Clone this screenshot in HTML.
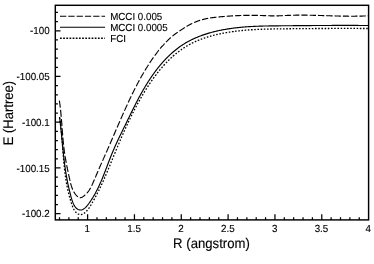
<!DOCTYPE html>
<html><head><meta charset="utf-8"><title>Chart</title>
<style>html,body{margin:0;padding:0;background:#fff;width:374px;height:264px;overflow:hidden;font-family:"Liberation Sans",sans-serif}</style>
</head><body>
<svg width="374" height="264" viewBox="0 0 374 264" style="position:absolute;left:0;top:0;will-change:transform">
<rect width="374" height="264" fill="#fff"/>
<g fill="none" stroke="#000">
<rect x="55.3" y="5.3" width="313.30" height="214.60" stroke-width="1.45"/>
<path d="M55.3,12.45h2.6 M55.3,21.60h2.6 M55.3,30.75h5.2 M55.3,39.90h2.6 M55.3,49.05h2.6 M55.3,58.19h2.6 M55.3,67.34h2.6 M55.3,76.49h5.2 M55.3,85.64h2.6 M55.3,94.79h2.6 M55.3,103.93h2.6 M55.3,113.08h2.6 M55.3,122.23h5.2 M55.3,131.38h2.6 M55.3,140.53h2.6 M55.3,149.67h2.6 M55.3,158.82h2.6 M55.3,167.97h5.2 M55.3,177.12h2.6 M55.3,186.27h2.6 M55.3,195.41h2.6 M55.3,204.56h2.6 M55.3,213.71h5.2 M59.50,219.9v-2.6 M68.87,219.9v-2.6 M78.23,219.9v-2.6 M87.60,219.9v-5.6 M96.97,219.9v-2.6 M106.33,219.9v-2.6 M115.70,219.9v-2.6 M125.07,219.9v-2.6 M134.44,219.9v-5.6 M143.80,219.9v-2.6 M153.17,219.9v-2.6 M162.54,219.9v-2.6 M171.90,219.9v-2.6 M181.27,219.9v-5.6 M190.64,219.9v-2.6 M200.00,219.9v-2.6 M209.37,219.9v-2.6 M218.74,219.9v-2.6 M228.10,219.9v-5.6 M237.47,219.9v-2.6 M246.84,219.9v-2.6 M256.21,219.9v-2.6 M265.57,219.9v-2.6 M274.94,219.9v-5.6 M284.31,219.9v-2.6 M293.67,219.9v-2.6 M303.04,219.9v-2.6 M312.41,219.9v-2.6 M321.77,219.9v-5.6 M331.14,219.9v-2.6 M340.51,219.9v-2.6 M349.88,219.9v-2.6 M359.24,219.9v-2.6" stroke-width="1.25"/>
<path d="M59.40,100.69 L59.45,101.02 L59.50,101.35 L59.55,101.68 L59.59,102.02 L59.64,102.35 L59.68,102.68 L59.73,103.01 L59.77,103.34 L59.81,103.67 L59.86,103.99 L59.90,104.32 L59.94,104.65 L59.98,104.98 L60.02,105.31 L60.06,105.64 L60.10,105.97 L60.14,106.30 L60.18,106.63 L60.22,106.96 L60.26,107.29 L60.29,107.62 L60.30,107.66 M60.54,109.88 L60.55,109.92 L60.58,110.25 L60.61,110.57 L60.65,110.90 L60.68,111.23 L60.71,111.56 L60.75,111.89 L60.78,112.22 L60.81,112.54 L60.84,112.87 L60.87,113.20 L60.91,113.53 L60.94,113.85 L60.97,114.18 L61.00,114.51 L61.03,114.84 L61.06,115.16 L61.09,115.49 L61.11,115.82 L61.14,116.15 L61.17,116.47 L61.20,116.80 L61.21,116.88 M61.39,119.10 L61.42,119.42 L61.45,119.74 L61.47,120.07 L61.50,120.40 L61.52,120.72 L61.55,121.05 L61.58,121.38 L61.60,121.70 L61.63,122.03 L61.65,122.35 L61.68,122.68 L61.70,123.01 L61.73,123.33 L61.75,123.66 L61.78,123.98 L61.80,124.31 L61.83,124.64 L61.85,124.96 L61.88,125.29 L61.90,125.61 L61.93,125.94 L61.94,126.12 M62.11,128.34 L62.12,128.54 L62.15,128.87 L62.17,129.19 L62.20,129.52 L62.22,129.84 L62.25,130.17 L62.27,130.49 L62.30,130.82 L62.32,131.14 L62.35,131.47 L62.37,131.79 L62.40,132.12 L62.43,132.44 L62.45,132.77 L62.48,133.09 L62.50,133.42 L62.53,133.74 L62.55,134.07 L62.58,134.39 L62.61,134.72 L62.63,135.04 L62.66,135.35 M62.85,137.58 L62.85,137.64 L62.88,137.96 L62.91,138.29 L62.94,138.61 L62.97,138.93 L63.00,139.26 L63.03,139.58 L63.06,139.91 L63.09,140.23 L63.12,140.56 L63.15,140.88 L63.18,141.20 L63.21,141.53 L63.25,141.85 L63.28,142.18 L63.31,142.50 L63.34,142.82 L63.38,143.15 L63.41,143.47 L63.45,143.80 L63.48,144.12 L63.51,144.44 L63.53,144.58 M63.78,146.79 L63.81,147.03 L63.84,147.36 L63.88,147.68 L63.92,148.00 L63.96,148.33 L64.00,148.65 L64.04,148.97 L64.09,149.30 L64.13,149.62 L64.17,149.95 L64.21,150.27 L64.26,150.59 L64.30,150.92 L64.34,151.24 L64.39,151.56 L64.43,151.89 L64.48,152.21 L64.53,152.53 L64.57,152.86 L64.62,153.18 L64.67,153.50 L64.71,153.76 M65.05,155.96 L65.07,156.09 L65.12,156.41 L65.18,156.74 L65.23,157.06 L65.28,157.38 L65.34,157.71 L65.39,158.03 L65.45,158.36 L65.50,158.68 L65.56,159.00 L65.62,159.33 L65.67,159.65 L65.73,159.97 L65.79,160.30 L65.84,160.62 L65.90,160.94 L65.96,161.27 L66.02,161.59 L66.08,161.91 L66.14,162.24 L66.20,162.56 L66.26,162.87 M66.68,165.05 L66.70,165.15 L66.76,165.47 L66.82,165.79 L66.89,166.12 L66.95,166.44 L67.02,166.76 L67.08,167.09 L67.15,167.41 L67.21,167.74 L67.28,168.06 L67.35,168.38 L67.41,168.71 L67.48,169.03 L67.55,169.35 L67.61,169.68 L67.68,170.00 L67.75,170.32 L67.82,170.65 L67.89,170.97 L67.95,171.30 L68.02,171.62 L68.09,171.91 M68.55,174.08 L68.58,174.21 L68.65,174.53 L68.72,174.86 L68.79,175.18 L68.87,175.51 L68.94,175.83 L69.01,176.15 L69.08,176.48 L69.15,176.80 L69.22,177.13 L69.30,177.45 L69.37,177.78 L69.44,178.10 L69.51,178.42 L69.59,178.75 L69.66,179.07 L69.73,179.40 L69.81,179.72 L69.88,180.05 L69.95,180.37 L70.03,180.69 L70.08,180.91 M70.59,183.08 L70.64,183.28 L70.72,183.60 L70.80,183.92 L70.89,184.24 L70.97,184.56 L71.06,184.88 L71.15,185.20 L71.24,185.52 L71.34,185.83 L71.43,186.15 L71.53,186.46 L71.63,186.77 L71.73,187.09 L71.84,187.40 L71.95,187.71 L72.06,188.01 L72.18,188.32 L72.29,188.62 L72.42,188.93 L72.54,189.23 L72.67,189.53 L72.74,189.68 M73.70,191.64 L73.84,191.87 L74.00,192.15 L74.17,192.43 L74.35,192.71 L74.53,192.99 L74.71,193.26 L74.90,193.54 L75.09,193.81 L75.30,194.07 L75.50,194.34 L75.71,194.60 L75.93,194.86 L76.15,195.12 L76.38,195.37 L76.62,195.62 L76.86,195.87 L77.11,196.11 L77.36,196.34 L77.62,196.57 L77.88,196.78 L77.92,196.81 M79.74,197.68 L79.81,197.70 L80.10,197.72 L80.38,197.72 L80.67,197.68 L80.96,197.62 L81.25,197.54 L81.54,197.43 L81.83,197.30 L82.12,197.16 L82.41,197.00 L82.69,196.82 L82.97,196.63 L83.26,196.44 L83.54,196.24 L83.81,196.03 L84.08,195.82 L84.35,195.60 L84.62,195.37 L84.88,195.14 L85.14,194.91 L85.30,194.77 M86.78,193.27 L86.85,193.18 L87.08,192.93 L87.30,192.67 L87.51,192.41 L87.73,192.15 L87.93,191.89 L88.14,191.62 L88.33,191.36 L88.53,191.09 L88.72,190.83 L88.90,190.56 L89.09,190.29 L89.27,190.02 L89.44,189.75 L89.61,189.47 L89.78,189.20 L89.95,188.92 L90.11,188.65 L90.27,188.37 L90.43,188.09 L90.58,187.81 L90.63,187.72 M91.63,185.78 L91.74,185.54 L91.88,185.25 L92.02,184.96 L92.16,184.67 L92.29,184.38 L92.42,184.09 L92.56,183.80 L92.69,183.50 L92.82,183.21 L92.95,182.92 L93.09,182.62 L93.22,182.33 L93.35,182.03 L93.48,181.73 L93.61,181.44 L93.74,181.14 L93.87,180.84 L94.00,180.54 L94.13,180.24 L94.26,179.94 L94.39,179.64 L94.45,179.50 M95.32,177.48 L95.43,177.22 L95.56,176.91 L95.69,176.61 L95.82,176.31 L95.94,176.00 L96.07,175.70 L96.20,175.39 L96.33,175.08 L96.46,174.78 L96.59,174.47 L96.72,174.17 L96.85,173.86 L96.98,173.55 L97.10,173.25 L97.23,172.94 L97.36,172.63 L97.49,172.33 L97.62,172.02 L97.75,171.72 L97.88,171.41 L98.01,171.11 M98.86,169.09 L98.92,168.96 L99.05,168.66 L99.18,168.35 L99.31,168.05 L99.44,167.74 L99.58,167.44 L99.71,167.14 L99.84,166.83 L99.97,166.53 L100.10,166.22 L100.23,165.92 L100.37,165.62 L100.50,165.32 L100.63,165.01 L100.76,164.71 L100.90,164.41 L101.03,164.11 L101.16,163.80 L101.30,163.50 L101.43,163.20 L101.56,162.90 L101.62,162.77 M102.51,160.76 L102.63,160.49 L102.76,160.19 L102.90,159.89 L103.03,159.59 L103.17,159.29 L103.30,158.99 L103.43,158.69 L103.57,158.39 L103.70,158.09 L103.84,157.79 L103.97,157.49 L104.11,157.20 L104.24,156.90 L104.37,156.60 L104.51,156.30 L104.64,156.00 L104.78,155.70 L104.91,155.40 L105.04,155.10 L105.18,154.80 L105.31,154.50 L105.33,154.47 M106.22,152.47 L106.25,152.41 L106.38,152.11 L106.52,151.81 L106.65,151.51 L106.78,151.21 L106.92,150.91 L107.05,150.61 L107.18,150.32 L107.32,150.02 L107.45,149.72 L107.58,149.42 L107.71,149.12 L107.85,148.82 L107.98,148.52 L108.11,148.22 L108.24,147.92 L108.38,147.62 L108.51,147.32 L108.64,147.02 L108.77,146.72 L108.90,146.42 L109.02,146.16 M109.90,144.15 L109.95,144.02 L110.09,143.72 L110.22,143.42 L110.35,143.12 L110.48,142.82 L110.61,142.52 L110.74,142.22 L110.87,141.92 L111.00,141.62 L111.13,141.32 L111.26,141.02 L111.39,140.72 L111.52,140.42 L111.65,140.12 L111.78,139.82 L111.91,139.52 L112.04,139.22 L112.17,138.91 L112.30,138.61 L112.43,138.31 L112.56,138.01 L112.65,137.82 M113.52,135.81 L113.60,135.61 L113.73,135.31 L113.86,135.00 L113.99,134.70 L114.12,134.40 L114.25,134.10 L114.38,133.80 L114.51,133.50 L114.64,133.20 L114.77,132.90 L114.90,132.60 L115.03,132.30 L115.16,132.00 L115.29,131.69 L115.42,131.39 L115.55,131.09 L115.68,130.79 L115.81,130.49 L115.94,130.19 L116.07,129.89 L116.20,129.59 L116.25,129.47 M117.12,127.45 L117.24,127.18 L117.37,126.88 L117.50,126.58 L117.63,126.28 L117.76,125.98 L117.89,125.68 L118.02,125.38 L118.15,125.07 L118.28,124.77 L118.41,124.47 L118.54,124.17 L118.67,123.87 L118.80,123.57 L118.93,123.27 L119.06,122.97 L119.19,122.67 L119.32,122.37 L119.45,122.07 L119.58,121.77 L119.71,121.47 L119.84,121.17 L119.86,121.12 M120.74,119.11 L120.76,119.06 L120.89,118.76 L121.02,118.46 L121.16,118.16 L121.29,117.86 L121.42,117.56 L121.55,117.26 L121.68,116.96 L121.82,116.66 L121.95,116.36 L122.08,116.06 L122.21,115.76 L122.34,115.46 L122.48,115.16 L122.61,114.86 L122.74,114.56 L122.88,114.26 L123.01,113.96 L123.14,113.66 L123.27,113.36 L123.41,113.06 L123.53,112.80 M124.42,110.80 L124.48,110.67 L124.61,110.37 L124.75,110.07 L124.88,109.77 L125.02,109.47 L125.15,109.17 L125.29,108.87 L125.42,108.57 L125.56,108.27 L125.69,107.98 L125.83,107.68 L125.96,107.38 L126.10,107.08 L126.24,106.78 L126.37,106.48 L126.51,106.18 L126.65,105.89 L126.78,105.59 L126.92,105.29 L127.06,104.99 L127.19,104.69 L127.27,104.52 M128.19,102.54 L128.30,102.31 L128.44,102.01 L128.58,101.72 L128.72,101.42 L128.86,101.12 L128.99,100.83 L129.13,100.53 L129.27,100.23 L129.41,99.93 L129.55,99.64 L129.70,99.34 L129.84,99.04 L129.98,98.75 L130.12,98.45 L130.26,98.16 L130.40,97.86 L130.54,97.56 L130.69,97.27 L130.83,96.97 L130.97,96.67 L131.11,96.38 L131.14,96.32 M132.10,94.35 L132.12,94.31 L132.26,94.02 L132.41,93.72 L132.55,93.43 L132.70,93.13 L132.84,92.84 L132.99,92.54 L133.13,92.25 L133.28,91.95 L133.43,91.66 L133.57,91.36 L133.72,91.07 L133.87,90.78 L134.01,90.48 L134.16,90.19 L134.31,89.89 L134.46,89.60 L134.61,89.31 L134.76,89.01 L134.90,88.72 L135.05,88.43 L135.17,88.21 M136.16,86.27 L136.26,86.09 L136.41,85.79 L136.56,85.50 L136.71,85.21 L136.87,84.92 L137.02,84.63 L137.17,84.34 L137.33,84.04 L137.48,83.75 L137.63,83.46 L137.79,83.17 L137.94,82.88 L138.10,82.59 L138.25,82.30 L138.41,82.01 L138.56,81.72 L138.72,81.43 L138.88,81.14 L139.03,80.85 L139.19,80.56 L139.35,80.27 L139.38,80.22 M140.42,78.31 L140.46,78.24 L140.62,77.96 L140.78,77.67 L140.94,77.38 L141.10,77.09 L141.26,76.80 L141.42,76.51 L141.59,76.23 L141.75,75.94 L141.91,75.65 L142.08,75.36 L142.24,75.08 L142.40,74.79 L142.57,74.50 L142.73,74.22 L142.90,73.93 L143.06,73.64 L143.23,73.36 L143.39,73.07 L143.56,72.79 L143.73,72.50 L143.80,72.37 M144.91,70.51 L145.07,70.23 L145.24,69.94 L145.42,69.66 L145.59,69.38 L145.76,69.09 L145.93,68.81 L146.10,68.53 L146.27,68.25 L146.45,67.97 L146.62,67.68 L146.79,67.40 L146.97,67.12 L147.14,66.84 L147.32,66.56 L147.49,66.28 L147.67,66.00 L147.85,65.72 L148.02,65.44 L148.20,65.17 L148.38,64.89 L148.49,64.72 M149.66,62.91 L149.81,62.67 L149.99,62.40 L150.18,62.12 L150.36,61.85 L150.54,61.58 L150.72,61.30 L150.91,61.03 L151.09,60.76 L151.28,60.48 L151.46,60.21 L151.65,59.94 L151.83,59.67 L152.02,59.40 L152.21,59.13 L152.39,58.86 L152.58,58.59 L152.77,58.32 L152.96,58.05 L153.15,57.78 L153.34,57.51 L153.48,57.31 M154.74,55.57 L154.87,55.39 L155.07,55.13 L155.26,54.86 L155.46,54.60 L155.65,54.34 L155.85,54.08 L156.04,53.82 L156.24,53.56 L156.44,53.30 L156.64,53.04 L156.83,52.78 L157.03,52.52 L157.23,52.26 L157.43,52.00 L157.63,51.75 L157.84,51.49 L158.04,51.24 L158.24,50.98 L158.44,50.73 L158.65,50.47 L158.84,50.23 M160.19,48.58 L160.29,48.46 L160.50,48.21 L160.71,47.97 L160.92,47.72 L161.13,47.47 L161.34,47.23 L161.55,46.98 L161.76,46.74 L161.97,46.49 L162.18,46.25 L162.40,46.01 L162.61,45.76 L162.83,45.52 L163.04,45.28 L163.26,45.04 L163.47,44.80 L163.69,44.56 L163.91,44.33 L164.12,44.09 L164.34,43.85 L164.56,43.62 L164.61,43.57 M166.07,42.04 L166.11,42.00 L166.33,41.77 L166.56,41.54 L166.78,41.31 L167.01,41.09 L167.23,40.86 L167.46,40.64 L167.69,40.42 L167.92,40.20 L168.14,39.98 L168.37,39.76 L168.60,39.54 L168.83,39.32 L169.06,39.11 L169.30,38.89 L169.53,38.68 L169.76,38.46 L169.99,38.25 L170.23,38.04 L170.46,37.83 L170.70,37.63 L170.87,37.48 M172.46,36.13 L172.61,36.00 L172.85,35.81 L173.09,35.61 L173.33,35.42 L173.57,35.22 L173.82,35.03 L174.06,34.84 L174.31,34.65 L174.55,34.47 L174.80,34.28 L175.05,34.10 L175.30,33.91 L175.55,33.73 L175.79,33.55 L176.04,33.37 L176.29,33.19 L176.55,33.02 L176.80,32.84 L177.05,32.67 L177.30,32.50 L177.56,32.33 L177.70,32.23 M179.42,31.08 L179.62,30.94 L179.88,30.77 L180.14,30.59 L180.40,30.41 L180.66,30.24 L180.92,30.06 L181.19,29.88 L181.45,29.70 L181.72,29.53 L181.98,29.35 L182.25,29.17 L182.52,29.00 L182.78,28.82 L183.05,28.64 L183.32,28.47 L183.59,28.29 L183.86,28.12 L184.13,27.94 L184.41,27.77 L184.68,27.60 L184.84,27.49 M186.59,26.42 L186.60,26.41 L186.88,26.25 L187.16,26.09 L187.44,25.92 L187.72,25.76 L188.00,25.61 L188.28,25.45 L188.56,25.29 L188.85,25.14 L189.13,24.98 L189.41,24.83 L189.70,24.68 L189.98,24.53 L190.27,24.38 L190.55,24.24 L190.84,24.09 L191.13,23.95 L191.42,23.81 L191.71,23.67 L192.00,23.53 L192.28,23.39 M194.13,22.55 L194.34,22.46 L194.63,22.34 L194.93,22.21 L195.23,22.09 L195.52,21.97 L195.82,21.85 L196.12,21.73 L196.42,21.61 L196.72,21.49 L197.02,21.38 L197.32,21.27 L197.63,21.16 L197.93,21.05 L198.23,20.94 L198.54,20.83 L198.84,20.73 L199.14,20.62 L199.45,20.52 L199.76,20.42 L200.06,20.32 L200.10,20.31 M202.03,19.73 L202.23,19.68 L202.54,19.59 L202.86,19.51 L203.17,19.42 L203.49,19.34 L203.80,19.26 L204.12,19.18 L204.43,19.11 L204.75,19.03 L205.07,18.96 L205.38,18.89 L205.70,18.82 L206.02,18.75 L206.34,18.68 L206.66,18.62 L206.98,18.55 L207.30,18.49 L207.62,18.43 L207.94,18.37 L208.20,18.32 M210.18,17.99 L210.21,17.98 L210.53,17.93 L210.86,17.88 L211.19,17.83 L211.51,17.79 L211.84,17.74 L212.17,17.69 L212.49,17.65 L212.82,17.61 L213.15,17.56 L213.48,17.52 L213.80,17.48 L214.13,17.44 L214.46,17.40 L214.79,17.36 L215.12,17.32 L215.45,17.29 L215.78,17.25 L216.11,17.21 L216.44,17.18 L216.44,17.18 M218.43,16.98 L218.74,16.95 L219.07,16.92 L219.40,16.88 L219.73,16.85 L220.06,16.82 L220.39,16.79 L220.72,16.76 L221.05,16.73 L221.38,16.70 L221.71,16.67 L222.04,16.65 L222.37,16.62 L222.70,16.59 L223.03,16.56 L223.36,16.53 L223.69,16.51 L224.02,16.48 L224.35,16.45 L224.68,16.43 L224.71,16.42 M226.71,16.27 L226.99,16.25 L227.31,16.23 L227.64,16.20 L227.97,16.18 L228.30,16.16 L228.63,16.13 L228.96,16.11 L229.29,16.09 L229.62,16.07 L229.95,16.05 L230.28,16.02 L230.61,16.00 L230.94,15.98 L231.26,15.96 L231.59,15.94 L231.92,15.92 L232.25,15.90 L232.58,15.88 L232.91,15.87 L232.99,15.86 M234.99,15.75 L235.21,15.74 L235.54,15.73 L235.87,15.71 L236.20,15.70 L236.53,15.68 L236.85,15.67 L237.18,15.65 L237.51,15.64 L237.84,15.62 L238.17,15.61 L238.50,15.60 L238.83,15.58 L239.15,15.57 L239.48,15.56 L239.81,15.55 L240.14,15.53 L240.47,15.52 L240.80,15.51 L241.12,15.50 L241.29,15.50 M243.29,15.44 L243.42,15.44 L243.75,15.43 L244.08,15.42 L244.41,15.41 L244.74,15.41 L245.06,15.40 L245.39,15.39 L245.72,15.39 L246.05,15.38 L246.38,15.38 L246.70,15.37 L247.03,15.37 L247.36,15.36 L247.69,15.36 L248.02,15.36 L248.34,15.35 L248.67,15.35 L249.00,15.35 L249.33,15.34 L249.59,15.34 M251.59,15.34 L251.62,15.34 L251.95,15.34 L252.28,15.34 L252.61,15.34 L252.94,15.34 L253.26,15.35 L253.59,15.35 L253.92,15.35 L254.25,15.35 L254.58,15.36 L254.90,15.36 L255.23,15.37 L255.56,15.37 L255.89,15.38 L256.21,15.38 L256.54,15.39 L256.87,15.39 L257.20,15.40 L257.53,15.40 L257.85,15.41 L257.89,15.41 M259.89,15.46 L260.15,15.47 L260.48,15.48 L260.80,15.49 L261.13,15.50 L261.46,15.51 L261.79,15.52 L262.11,15.54 L262.44,15.55 L262.77,15.56 L263.10,15.57 L263.42,15.58 L263.75,15.59 L264.08,15.61 L264.41,15.62 L264.74,15.63 L265.06,15.64 L265.39,15.65 L265.72,15.67 L266.05,15.68 L266.18,15.68 M268.18,15.75 L268.34,15.76 L268.67,15.77 L269.00,15.78 L269.32,15.78 L269.65,15.79 L269.98,15.80 L270.31,15.81 L270.63,15.82 L270.96,15.83 L271.29,15.83 L271.62,15.84 L271.94,15.85 L272.27,15.85 L272.60,15.86 L272.93,15.86 L273.26,15.86 L273.58,15.87 L273.91,15.87 L274.24,15.87 L274.48,15.87 M276.48,15.86 L276.53,15.86 L276.86,15.86 L277.19,15.85 L277.52,15.84 L277.84,15.84 L278.17,15.83 L278.50,15.82 L278.83,15.81 L279.16,15.80 L279.48,15.79 L279.81,15.77 L280.14,15.76 L280.47,15.75 L280.79,15.73 L281.12,15.72 L281.45,15.70 L281.78,15.69 L282.11,15.67 L282.43,15.66 L282.76,15.64 L282.78,15.64 M284.78,15.54 L285.06,15.53 L285.39,15.51 L285.71,15.50 L286.04,15.48 L286.37,15.47 L286.70,15.45 L287.03,15.44 L287.35,15.42 L287.68,15.41 L288.01,15.39 L288.34,15.38 L288.67,15.37 L288.99,15.36 L289.32,15.35 L289.65,15.33 L289.98,15.32 L290.31,15.31 L290.64,15.30 L290.96,15.29 L291.07,15.29 M293.07,15.24 L293.26,15.23 L293.59,15.23 L293.92,15.22 L294.25,15.21 L294.57,15.21 L294.90,15.20 L295.23,15.20 L295.56,15.19 L295.89,15.19 L296.22,15.18 L296.54,15.18 L296.87,15.17 L297.20,15.17 L297.53,15.17 L297.86,15.17 L298.19,15.16 L298.52,15.16 L298.84,15.16 L299.17,15.16 L299.37,15.16 M301.37,15.15 L301.47,15.15 L301.80,15.15 L302.13,15.15 L302.46,15.16 L302.79,15.16 L303.11,15.16 L303.44,15.16 L303.77,15.16 L304.10,15.16 L304.43,15.17 L304.76,15.17 L305.09,15.17 L305.41,15.18 L305.74,15.18 L306.07,15.18 L306.40,15.19 L306.73,15.19 L307.06,15.19 L307.39,15.20 L307.67,15.20 M309.67,15.23 L309.69,15.23 L310.02,15.24 L310.34,15.25 L310.67,15.25 L311.00,15.26 L311.33,15.27 L311.66,15.27 L311.99,15.28 L312.32,15.29 L312.65,15.29 L312.97,15.30 L313.30,15.31 L313.63,15.32 L313.96,15.32 L314.29,15.33 L314.62,15.34 L314.95,15.35 L315.28,15.36 L315.60,15.36 L315.93,15.37 L315.97,15.37 M317.97,15.43 L318.23,15.43 L318.56,15.44 L318.89,15.45 L319.22,15.46 L319.55,15.47 L319.88,15.48 L320.21,15.49 L320.54,15.50 L320.87,15.51 L321.19,15.52 L321.52,15.53 L321.85,15.54 L322.18,15.55 L322.51,15.56 L322.84,15.57 L323.17,15.58 L323.50,15.59 L323.82,15.60 L324.15,15.61 L324.27,15.61 M326.26,15.68 L326.46,15.68 L326.78,15.69 L327.11,15.70 L327.44,15.71 L327.77,15.72 L328.10,15.73 L328.43,15.74 L328.76,15.75 L329.09,15.76 L329.41,15.77 L329.74,15.78 L330.07,15.79 L330.40,15.80 L330.73,15.81 L331.06,15.82 L331.39,15.83 L331.72,15.84 L332.05,15.85 L332.37,15.86 L332.56,15.87 M334.56,15.93 L334.68,15.93 L335.00,15.94 L335.33,15.95 L335.66,15.96 L335.99,15.96 L336.32,15.97 L336.65,15.98 L336.98,15.99 L337.31,16.00 L337.63,16.01 L337.96,16.02 L338.29,16.02 L338.62,16.03 L338.95,16.04 L339.28,16.05 L339.61,16.05 L339.94,16.06 L340.26,16.07 L340.59,16.08 L340.86,16.08 M342.86,16.12 L342.89,16.12 L343.22,16.13 L343.55,16.13 L343.88,16.14 L344.21,16.14 L344.54,16.15 L344.86,16.15 L345.19,16.16 L345.52,16.16 L345.85,16.17 L346.18,16.17 L346.51,16.18 L346.84,16.18 L347.16,16.18 L347.49,16.19 L347.82,16.19 L348.15,16.19 L348.48,16.20 L348.81,16.20 L349.14,16.20 L349.16,16.20 M351.16,16.21 L351.44,16.21 L351.76,16.21 L352.09,16.21 L352.42,16.21 L352.75,16.21 L353.08,16.21 L353.41,16.21 L353.73,16.21 L354.06,16.20 L354.39,16.20 L354.72,16.20 L355.05,16.20 L355.38,16.19 L355.70,16.19 L356.03,16.19 L356.36,16.18 L356.69,16.18 L357.02,16.18 L357.35,16.17 L357.46,16.17 M359.46,16.13 L359.64,16.13 L359.97,16.12 L360.30,16.11 L360.63,16.11 L360.96,16.10 L361.28,16.09 L361.61,16.08 L361.94,16.07 L362.27,16.06 L362.60,16.05 L362.92,16.04 L363.25,16.03 L363.58,16.02 L363.91,16.01 L364.24,15.99 L364.56,15.98 L364.89,15.97 L365.22,15.95 L365.55,15.94 L365.76,15.93 M367.75,15.84 L367.84,15.83 L368.17,15.82 L368.50,15.80" stroke-width="1.15"/>
<path d="M59.61,117.00 L59.70,117.76 L59.79,118.52 L59.88,119.28 L59.97,120.05 L60.06,120.82 L60.15,121.59 L60.24,122.37 L60.32,123.15 L60.41,123.93 L60.49,124.71 L60.57,125.50 L60.66,126.29 L60.74,127.08 L60.82,127.87 L60.90,128.67 L60.98,129.47 L61.06,130.27 L61.14,131.07 L61.22,131.87 L61.30,132.68 L61.38,133.49 L61.46,134.30 L61.54,135.11 L61.62,135.92 L61.70,136.74 L61.78,137.55 L61.86,138.37 L61.93,139.19 L62.01,140.01 L62.09,140.83 L62.17,141.65 L62.25,142.47 L62.33,143.29 L62.41,144.12 L62.49,144.94 L62.58,145.77 L62.66,146.59 L62.74,147.42 L62.82,148.24 L62.91,149.07 L62.99,149.89 L63.08,150.72 L63.16,151.55 L63.25,152.37 L63.34,153.20 L63.43,154.02 L63.52,154.85 L63.61,155.67 L63.70,156.49 L63.80,157.32 L63.89,158.14 L63.99,158.96 L64.08,159.78 L64.18,160.60 L64.28,161.42 L64.38,162.23 L64.49,163.05 L64.59,163.86 L64.70,164.67 L64.81,165.48 L64.92,166.29 L65.03,167.10 L65.14,167.91 L65.26,168.71 L65.37,169.51 L65.49,170.31 L65.61,171.11 L65.73,171.91 L65.86,172.70 L65.99,173.49 L66.12,174.28 L66.25,175.06 L66.38,175.85 L66.52,176.63 L66.65,177.40 L66.79,178.18 L66.94,178.95 L67.08,179.72 L67.23,180.48 L67.38,181.25 L67.54,182.01 L67.69,182.77 L67.85,183.52 L68.01,184.28 L68.18,185.04 L68.34,185.79 L68.52,186.55 L68.69,187.31 L68.87,188.07 L69.04,188.84 L69.23,189.60 L69.41,190.37 L69.60,191.15 L69.79,191.93 L69.99,192.72 L70.19,193.51 L70.39,194.30 L70.60,195.11 L70.81,195.92 L71.02,196.74 L71.25,197.55 L71.48,198.37 L71.72,199.19 L71.98,200.00 L72.25,200.81 L72.53,201.61 L72.83,202.39 L73.16,203.17 L73.50,203.93 L73.86,204.68 L74.25,205.40 L74.66,206.11 L75.10,206.79 L75.58,207.44 L76.11,208.04 L76.71,208.58 L77.37,209.05 L78.10,209.44 L78.87,209.73 L79.65,209.92 L80.42,210.00 L81.17,209.96 L81.88,209.82 L82.57,209.58 L83.24,209.26 L83.88,208.86 L84.50,208.40 L85.10,207.88 L85.68,207.33 L86.25,206.74 L86.80,206.12 L87.33,205.48 L87.86,204.82 L88.37,204.15 L88.87,203.48 L89.36,202.79 L89.84,202.11 L90.32,201.42 L90.79,200.73 L91.25,200.04 L91.70,199.35 L92.14,198.65 L92.58,197.95 L93.01,197.25 L93.44,196.55 L93.85,195.84 L94.26,195.14 L94.67,194.43 L95.07,193.72 L95.46,193.00 L95.85,192.29 L96.23,191.57 L96.60,190.85 L96.97,190.13 L97.34,189.41 L97.70,188.69 L98.05,187.96 L98.40,187.24 L98.75,186.51 L99.09,185.78 L99.43,185.05 L99.76,184.32 L100.09,183.58 L100.42,182.85 L100.74,182.11 L101.06,181.38 L101.37,180.64 L101.68,179.90 L101.99,179.16 L102.30,178.42 L102.60,177.67 L102.90,176.93 L103.20,176.19 L103.50,175.44 L103.79,174.70 L104.09,173.95 L104.38,173.20 L104.67,172.45 L104.96,171.71 L105.25,170.96 L105.53,170.21 L105.82,169.46 L106.10,168.71 L106.39,167.96 L106.67,167.21 L106.96,166.46 L107.24,165.70 L107.53,164.95 L107.81,164.20 L108.10,163.45 L108.38,162.70 L108.67,161.94 L108.96,161.19 L109.25,160.44 L109.54,159.69 L109.83,158.94 L110.12,158.19 L110.42,157.43 L110.71,156.68 L111.01,155.93 L111.31,155.18 L111.62,154.43 L111.92,153.69 L112.23,152.94 L112.54,152.19 L112.86,151.44 L113.18,150.69 L113.50,149.95 L113.82,149.20 L114.14,148.46 L114.47,147.71 L114.80,146.97 L115.13,146.23 L115.47,145.48 L115.80,144.74 L116.14,144.00 L116.48,143.26 L116.82,142.52 L117.17,141.78 L117.51,141.04 L117.86,140.30 L118.20,139.56 L118.55,138.82 L118.90,138.08 L119.26,137.35 L119.61,136.61 L119.96,135.87 L120.31,135.14 L120.67,134.40 L121.02,133.67 L121.38,132.94 L121.74,132.20 L122.09,131.47 L122.45,130.74 L122.81,130.01 L123.17,129.28 L123.52,128.54 L123.88,127.81 L124.24,127.09 L124.60,126.36 L124.95,125.63 L125.31,124.90 L125.67,124.17 L126.02,123.45 L126.38,122.72 L126.73,121.99 L127.08,121.27 L127.44,120.54 L127.79,119.82 L128.14,119.09 L128.50,118.37 L128.85,117.65 L129.20,116.93 L129.55,116.20 L129.90,115.48 L130.25,114.76 L130.61,114.04 L130.96,113.32 L131.31,112.60 L131.67,111.88 L132.02,111.16 L132.37,110.45 L132.73,109.73 L133.09,109.01 L133.44,108.29 L133.80,107.58 L134.16,106.86 L134.52,106.15 L134.88,105.43 L135.24,104.72 L135.61,104.00 L135.97,103.29 L136.34,102.58 L136.71,101.87 L137.08,101.15 L137.45,100.44 L137.82,99.73 L138.20,99.02 L138.57,98.31 L138.95,97.60 L139.33,96.89 L139.72,96.18 L140.10,95.47 L140.49,94.77 L140.88,94.06 L141.27,93.35 L141.67,92.64 L142.07,91.94 L142.47,91.23 L142.87,90.53 L143.28,89.82 L143.69,89.12 L144.10,88.42 L144.51,87.72 L144.93,87.02 L145.35,86.32 L145.77,85.62 L146.20,84.92 L146.63,84.23 L147.06,83.53 L147.49,82.84 L147.93,82.15 L148.37,81.46 L148.81,80.77 L149.26,80.08 L149.71,79.40 L150.16,78.71 L150.62,78.03 L151.08,77.36 L151.54,76.68 L152.00,76.00 L152.47,75.33 L152.94,74.66 L153.42,74.00 L153.90,73.33 L154.38,72.67 L154.86,72.01 L155.35,71.35 L155.84,70.70 L156.33,70.05 L156.83,69.40 L157.33,68.76 L157.84,68.11 L158.34,67.48 L158.85,66.84 L159.37,66.21 L159.89,65.58 L160.41,64.96 L160.93,64.33 L161.46,63.72 L162.00,63.10 L162.53,62.49 L163.07,61.89 L163.61,61.28 L164.16,60.68 L164.71,60.09 L165.27,59.50 L165.82,58.91 L166.38,58.33 L166.95,57.76 L167.52,57.18 L168.09,56.61 L168.67,56.05 L169.25,55.49 L169.84,54.94 L170.42,54.39 L171.02,53.84 L171.61,53.31 L172.21,52.77 L172.82,52.24 L173.43,51.72 L174.04,51.20 L174.65,50.69 L175.28,50.18 L175.90,49.68 L176.53,49.18 L177.16,48.69 L177.80,48.20 L178.44,47.73 L179.09,47.25 L179.74,46.78 L180.39,46.32 L181.05,45.87 L181.71,45.42 L182.38,44.98 L183.05,44.54 L183.72,44.11 L184.40,43.69 L185.09,43.27 L185.78,42.86 L186.47,42.46 L187.17,42.06 L187.87,41.67 L188.57,41.28 L189.28,40.91 L190.00,40.54 L190.71,40.17 L191.44,39.81 L192.16,39.46 L192.89,39.11 L193.62,38.77 L194.35,38.44 L195.09,38.11 L195.83,37.79 L196.58,37.47 L197.32,37.16 L198.07,36.85 L198.83,36.55 L199.58,36.26 L200.34,35.97 L201.10,35.69 L201.86,35.41 L202.63,35.14 L203.40,34.87 L204.17,34.61 L204.94,34.35 L205.71,34.10 L206.49,33.85 L207.26,33.61 L208.04,33.38 L208.82,33.14 L209.60,32.92 L210.39,32.70 L211.17,32.48 L211.96,32.27 L212.74,32.06 L213.53,31.86 L214.32,31.66 L215.11,31.47 L215.90,31.28 L216.69,31.09 L217.48,30.91 L218.28,30.74 L219.07,30.56 L219.86,30.40 L220.65,30.23 L221.45,30.07 L222.24,29.92 L223.04,29.76 L223.83,29.62 L224.63,29.47 L225.43,29.33 L226.22,29.20 L227.02,29.06 L227.82,28.93 L228.62,28.81 L229.42,28.69 L230.22,28.57 L231.01,28.45 L231.81,28.34 L232.61,28.23 L233.42,28.13 L234.22,28.03 L235.02,27.93 L235.82,27.83 L236.62,27.74 L237.42,27.65 L238.23,27.56 L239.03,27.48 L239.83,27.40 L240.64,27.32 L241.44,27.25 L242.25,27.17 L243.05,27.10 L243.86,27.04 L244.66,26.97 L245.47,26.91 L246.27,26.85 L247.08,26.79 L247.89,26.74 L248.69,26.68 L249.50,26.63 L250.31,26.58 L251.11,26.54 L251.92,26.49 L252.73,26.45 L253.54,26.41 L254.35,26.37 L255.15,26.33 L255.96,26.30 L256.77,26.26 L257.58,26.23 L258.39,26.20 L259.20,26.17 L260.01,26.15 L260.82,26.12 L261.63,26.10 L262.44,26.07 L263.25,26.05 L264.06,26.03 L264.87,26.01 L265.68,25.99 L266.49,25.98 L267.30,25.96 L268.11,25.95 L268.92,25.93 L269.73,25.92 L270.54,25.90 L271.35,25.89 L272.16,25.88 L272.97,25.87 L273.78,25.86 L274.59,25.85 L275.40,25.84 L276.21,25.84 L277.02,25.83 L277.83,25.82 L278.65,25.81 L279.46,25.80 L280.27,25.80 L281.08,25.79 L281.89,25.78 L282.70,25.78 L283.51,25.77 L284.32,25.76 L285.13,25.76 L285.94,25.75 L286.75,25.74 L287.56,25.74 L288.37,25.73 L289.18,25.72 L289.99,25.72 L290.80,25.71 L291.61,25.70 L292.42,25.70 L293.23,25.69 L294.04,25.68 L294.85,25.67 L295.66,25.67 L296.47,25.66 L297.28,25.66 L298.09,25.65 L298.90,25.64 L299.70,25.64 L300.51,25.63 L301.32,25.62 L302.13,25.62 L302.94,25.61 L303.75,25.60 L304.56,25.60 L305.37,25.59 L306.18,25.59 L306.99,25.58 L307.80,25.57 L308.61,25.57 L309.42,25.56 L310.22,25.56 L311.03,25.55 L311.84,25.55 L312.65,25.54 L313.46,25.54 L314.27,25.53 L315.08,25.53 L315.89,25.52 L316.70,25.52 L317.50,25.51 L318.31,25.51 L319.12,25.50 L319.93,25.50 L320.74,25.49 L321.55,25.49 L322.36,25.48 L323.17,25.48 L323.98,25.48 L324.78,25.47 L325.59,25.47 L326.40,25.46 L327.21,25.46 L328.02,25.46 L328.83,25.45 L329.64,25.45 L330.45,25.45 L331.26,25.45 L332.07,25.44 L332.87,25.44 L333.68,25.44 L334.49,25.44 L335.30,25.43 L336.11,25.43 L336.92,25.43 L337.73,25.43 L338.54,25.43 L339.35,25.43 L340.16,25.42 L340.96,25.42 L341.77,25.42 L342.58,25.42 L343.39,25.42 L344.20,25.42 L345.01,25.42 L345.82,25.42 L346.63,25.42 L347.44,25.42 L348.25,25.42 L349.06,25.42 L349.87,25.42 L350.68,25.42 L351.49,25.43 L352.30,25.43 L353.11,25.43 L353.92,25.43 L354.73,25.43 L355.54,25.44 L356.35,25.44 L357.16,25.44 L357.97,25.44 L358.78,25.45 L359.59,25.45 L360.40,25.45 L361.21,25.46 L362.02,25.46 L362.83,25.47 L363.64,25.47 L364.45,25.48 L365.26,25.48 L366.07,25.49 L366.88,25.49 L367.69,25.50 L368.50,25.50" stroke-width="1.15"/>
<path d="M59.50,117.50 L59.56,117.83 L59.61,118.16 L59.66,118.49 L59.71,118.82 L59.76,119.14 M60.01,120.89 L60.04,121.12 L60.09,121.45 L60.13,121.78 L60.18,122.11 L60.22,122.44 L60.24,122.54 M60.47,124.30 L60.48,124.41 L60.52,124.74 L60.56,125.07 L60.60,125.40 L60.65,125.73 L60.67,125.95 M60.88,127.71 L60.91,128.02 L60.95,128.35 L60.99,128.68 L61.02,129.01 L61.06,129.33 L61.06,129.37 M61.25,131.13 L61.27,131.30 L61.30,131.63 L61.34,131.95 L61.37,132.28 L61.40,132.61 L61.42,132.79 M61.59,134.55 L61.59,134.57 L61.62,134.89 L61.65,135.22 L61.68,135.55 L61.71,135.87 L61.74,136.20 L61.74,136.21 M61.90,137.97 L61.91,138.15 L61.94,138.48 L61.97,138.81 L62.00,139.13 L62.03,139.46 L62.04,139.63 M62.19,141.40 L62.19,141.41 L62.22,141.73 L62.24,142.06 L62.27,142.38 L62.29,142.71 L62.32,143.03 L62.32,143.06 M62.46,144.83 L62.47,144.98 L62.50,145.31 L62.53,145.63 L62.55,145.96 L62.58,146.28 L62.59,146.49 M62.73,148.26 L62.75,148.55 L62.78,148.87 L62.80,149.20 L62.83,149.52 L62.85,149.84 L62.86,149.92 M62.99,151.69 L63.00,151.79 L63.02,152.11 L63.05,152.43 L63.07,152.76 L63.10,153.08 L63.12,153.35 M63.26,155.12 L63.28,155.34 L63.30,155.66 L63.33,155.99 L63.36,156.31 L63.38,156.63 L63.39,156.78 M63.54,158.54 L63.54,158.57 L63.57,158.89 L63.60,159.21 L63.62,159.53 L63.65,159.86 L63.68,160.18 L63.68,160.20 M63.84,161.97 L63.85,162.11 L63.88,162.43 L63.91,162.75 L63.94,163.08 L63.97,163.40 L63.99,163.63 M64.16,165.39 L64.19,165.65 L64.22,165.97 L64.25,166.29 L64.29,166.61 L64.32,166.94 L64.33,167.05 M64.52,168.81 L64.52,168.86 L64.56,169.18 L64.59,169.51 L64.63,169.83 L64.67,170.15 L64.70,170.47 M64.91,172.23 L64.93,172.39 L64.97,172.71 L65.01,173.04 L65.05,173.36 L65.09,173.68 L65.12,173.88 M65.35,175.64 L65.39,175.92 L65.43,176.24 L65.48,176.56 L65.52,176.88 L65.57,177.20 L65.58,177.28 M65.84,179.04 L65.85,179.12 L65.90,179.44 L65.95,179.76 L66.00,180.08 L66.05,180.40 L66.10,180.68 M66.39,182.43 L66.42,182.64 L66.48,182.96 L66.53,183.28 L66.59,183.60 L66.65,183.92 L66.67,184.06 M67.00,185.80 L67.00,185.84 L67.07,186.16 L67.13,186.48 L67.19,186.80 L67.25,187.12 L67.32,187.44 M67.68,189.17 L67.72,189.36 L67.79,189.68 L67.86,190.00 L67.93,190.31 L68.00,190.63 L68.03,190.79 M68.43,192.51 L68.44,192.55 L68.51,192.87 L68.59,193.19 L68.67,193.51 L68.75,193.83 L68.82,194.12 M69.26,195.83 L69.32,196.06 L69.40,196.38 L69.49,196.70 L69.58,197.02 L69.66,197.34 L69.69,197.43 M70.17,199.13 L70.21,199.25 L70.30,199.57 L70.40,199.89 L70.49,200.21 L70.59,200.53 L70.64,200.72 M71.17,202.40 L71.18,202.44 L71.29,202.76 L71.39,203.08 L71.49,203.40 L71.60,203.72 L71.68,203.97 M72.26,205.64 L72.37,205.94 L72.49,206.26 L72.61,206.57 L72.74,206.88 L72.86,207.17 M73.59,208.76 L73.70,208.99 L73.86,209.28 L74.02,209.56 L74.18,209.84 L74.35,210.12 L74.39,210.19 M75.40,211.59 L75.49,211.69 L75.70,211.94 L75.92,212.17 L76.15,212.41 L76.38,212.63 L76.51,212.75 M77.86,213.77 L77.93,213.82 L78.21,213.98 L78.49,214.12 L78.78,214.25 L79.07,214.36 L79.28,214.43 M80.91,214.60 L81.13,214.58 L81.42,214.52 L81.72,214.45 L82.01,214.36 L82.30,214.25 L82.41,214.21 M83.88,213.41 L84.01,213.32 L84.29,213.13 L84.56,212.93 L84.83,212.71 L85.10,212.49 L85.15,212.45 M86.39,211.28 L86.61,211.04 L86.85,210.79 L87.08,210.52 L87.30,210.26 L87.46,210.08 M88.51,208.71 L88.55,208.65 L88.74,208.37 L88.93,208.10 L89.12,207.82 L89.30,207.55 L89.42,207.36 M90.34,205.89 L90.36,205.87 L90.53,205.59 L90.70,205.31 L90.87,205.03 L91.04,204.75 L91.19,204.49 M92.07,203.00 L92.20,202.77 L92.37,202.49 L92.53,202.21 L92.69,201.93 L92.86,201.64 L92.89,201.58 M93.75,200.06 L93.82,199.94 L93.98,199.65 L94.14,199.37 L94.30,199.08 L94.45,198.80 L94.54,198.63 M95.37,197.10 L95.38,197.08 L95.54,196.80 L95.69,196.51 L95.84,196.22 L95.99,195.94 L96.14,195.65 M96.95,194.10 L97.04,193.92 L97.19,193.64 L97.34,193.35 L97.49,193.06 L97.63,192.77 L97.70,192.64 M98.48,191.08 L98.50,191.03 L98.65,190.75 L98.79,190.46 L98.93,190.17 L99.08,189.88 L99.20,189.61 M99.97,188.04 L100.06,187.84 L100.20,187.55 L100.34,187.26 L100.48,186.97 L100.62,186.67 L100.67,186.55 M101.41,184.97 L101.44,184.92 L101.57,184.63 L101.71,184.33 L101.84,184.04 L101.98,183.75 L102.10,183.47 M102.83,181.88 L102.91,181.69 L103.04,181.40 L103.17,181.11 L103.31,180.81 L103.44,180.52 L103.50,180.38 M104.21,178.78 L104.22,178.75 L104.35,178.45 L104.48,178.16 L104.61,177.86 L104.74,177.57 L104.86,177.27 L104.87,177.27 M105.56,175.66 L105.63,175.50 L105.76,175.20 L105.89,174.90 L106.01,174.61 L106.14,174.31 L106.21,174.14 M106.89,172.53 L107.02,172.23 L107.14,171.93 L107.27,171.64 L107.39,171.34 L107.52,171.04 L107.53,171.01 M108.20,169.39 L108.26,169.26 L108.38,168.96 L108.51,168.66 L108.63,168.36 L108.75,168.06 L108.83,167.87 M109.50,166.25 L109.61,165.97 L109.74,165.68 L109.86,165.38 L109.98,165.08 L110.10,164.78 L110.13,164.72 M110.79,163.10 L110.84,162.98 L110.96,162.68 L111.08,162.38 L111.20,162.09 L111.32,161.79 L111.41,161.57 M112.07,159.94 L112.18,159.69 L112.30,159.39 L112.42,159.09 L112.54,158.79 L112.66,158.49 L112.69,158.42 M113.35,156.79 L113.40,156.69 L113.52,156.39 L113.64,156.09 L113.76,155.79 L113.88,155.49 L113.98,155.26 M114.64,153.64 L114.74,153.38 L114.87,153.08 L114.99,152.78 L115.11,152.48 L115.23,152.18 L115.26,152.11 M115.93,150.49 L115.98,150.38 L116.10,150.08 L116.22,149.78 L116.35,149.48 L116.47,149.18 L116.56,148.97 M117.23,147.35 L117.35,147.07 L117.47,146.77 L117.60,146.47 L117.72,146.17 L117.85,145.87 L117.87,145.83 M118.54,144.21 L118.61,144.06 L118.73,143.76 L118.86,143.46 L118.99,143.16 L119.11,142.86 L119.18,142.69 M119.87,141.08 L119.88,141.06 L120.01,140.76 L120.13,140.46 L120.26,140.16 L120.39,139.86 L120.52,139.56 M121.21,137.95 L121.29,137.76 L121.42,137.46 L121.55,137.16 L121.68,136.86 L121.81,136.56 L121.86,136.44 M122.57,134.84 L122.60,134.76 L122.73,134.46 L122.86,134.16 L122.99,133.86 L123.13,133.56 L123.23,133.33 M123.94,131.73 L124.06,131.46 L124.19,131.16 L124.32,130.87 L124.46,130.57 L124.59,130.27 L124.61,130.23 M125.33,128.63 L125.40,128.47 L125.54,128.18 L125.67,127.88 L125.81,127.58 L125.94,127.28 L126.01,127.13 M126.74,125.54 L126.76,125.49 L126.90,125.19 L127.04,124.90 L127.18,124.60 L127.32,124.30 L127.43,124.05 M128.18,122.47 L128.29,122.22 L128.43,121.92 L128.57,121.63 L128.71,121.33 L128.85,121.03 L128.88,120.98 M129.63,119.40 L129.70,119.26 L129.85,118.96 L129.99,118.66 L130.13,118.37 L130.28,118.07 L130.35,117.92 M131.12,116.35 L131.14,116.30 L131.29,116.01 L131.43,115.71 L131.58,115.42 L131.72,115.12 L131.84,114.88 M132.62,113.32 L132.75,113.06 L132.90,112.77 L133.05,112.48 L133.20,112.18 L133.35,111.89 L133.36,111.85 M134.16,110.30 L134.24,110.13 L134.40,109.84 L134.55,109.55 L134.70,109.25 L134.85,108.96 L134.91,108.84 M135.72,107.30 L135.77,107.21 L135.92,106.92 L136.07,106.63 L136.23,106.34 L136.38,106.05 L136.49,105.85 M137.32,104.31 L137.32,104.31 L137.47,104.02 L137.63,103.73 L137.79,103.44 L137.95,103.15 L138.10,102.87 M138.94,101.35 L139.06,101.13 L139.22,100.84 L139.38,100.56 L139.54,100.27 L139.71,99.98 L139.74,99.92 M140.60,98.41 L140.68,98.26 L140.84,97.97 L141.01,97.69 L141.17,97.40 L141.34,97.12 L141.41,96.99 M142.29,95.48 L142.33,95.41 L142.50,95.12 L142.67,94.84 L142.84,94.55 L143.01,94.27 L143.12,94.08 M144.01,92.59 L144.02,92.57 L144.19,92.29 L144.37,92.00 L144.54,91.72 L144.71,91.44 L144.86,91.19 M145.77,89.71 L145.92,89.47 L146.10,89.19 L146.27,88.91 L146.45,88.63 L146.63,88.35 L146.64,88.33 M147.57,86.87 L147.69,86.68 L147.87,86.41 L148.05,86.13 L148.23,85.85 L148.41,85.57 L148.46,85.50 M149.41,84.05 L149.50,83.92 L149.69,83.65 L149.87,83.37 L150.05,83.10 L150.24,82.83 L150.32,82.70 M151.30,81.27 L151.35,81.19 L151.54,80.92 L151.73,80.65 L151.92,80.38 L152.11,80.11 L152.23,79.94 M153.23,78.53 L153.25,78.50 L153.44,78.23 L153.63,77.96 L153.83,77.70 L154.02,77.43 L154.18,77.21 M155.21,75.82 L155.39,75.58 L155.58,75.32 L155.78,75.06 L155.98,74.80 L156.18,74.54 L156.18,74.53 M157.24,73.16 L157.38,72.98 L157.58,72.72 L157.78,72.47 L157.99,72.21 L158.19,71.95 L158.24,71.89 M159.32,70.55 L159.42,70.43 L159.63,70.17 L159.84,69.92 L160.05,69.67 L160.25,69.42 L160.35,69.31 M161.46,67.99 L161.52,67.93 L161.73,67.68 L161.94,67.43 L162.16,67.19 L162.37,66.94 L162.52,66.77 M163.66,65.49 L163.66,65.48 L163.88,65.24 L164.10,65.00 L164.32,64.76 L164.54,64.52 L164.74,64.30 M165.91,63.05 L166.09,62.87 L166.31,62.63 L166.54,62.40 L166.76,62.17 L166.99,61.93 L167.03,61.89 M168.23,60.68 L168.35,60.56 L168.58,60.33 L168.81,60.10 L169.04,59.88 L169.27,59.65 L169.38,59.55 M170.61,58.38 L170.67,58.32 L170.91,58.10 L171.14,57.88 L171.38,57.66 L171.62,57.44 L171.79,57.29 M173.05,56.16 L173.05,56.15 L173.30,55.94 L173.54,55.73 L173.78,55.52 L174.02,55.31 L174.26,55.11 M175.56,54.02 L175.75,53.86 L175.99,53.66 L176.24,53.46 L176.49,53.26 L176.74,53.05 L176.80,53.01 M178.13,51.97 L178.26,51.87 L178.51,51.67 L178.77,51.48 L179.03,51.29 L179.28,51.09 L179.40,51.01 M180.76,50.01 L180.84,49.96 L181.10,49.77 L181.36,49.59 L181.62,49.40 L181.89,49.22 L182.06,49.10 M183.46,48.16 L183.48,48.14 L183.75,47.97 L184.02,47.79 L184.29,47.62 L184.56,47.44 L184.79,47.30 M186.21,46.41 L186.47,46.25 L186.75,46.09 L187.03,45.92 L187.30,45.76 L187.57,45.60 M189.03,44.77 L189.26,44.64 L189.55,44.48 L189.83,44.33 L190.12,44.18 L190.40,44.02 L190.41,44.02 M191.90,43.25 L192.13,43.13 L192.42,42.99 L192.71,42.84 L193.00,42.70 L193.30,42.56 L193.31,42.55 M194.82,41.84 L195.07,41.73 L195.36,41.59 L195.66,41.46 L195.96,41.33 L196.25,41.20 M197.78,40.55 L198.07,40.43 L198.37,40.30 L198.67,40.18 L198.98,40.06 L199.23,39.96 M200.78,39.35 L200.82,39.34 L201.12,39.23 L201.43,39.11 L201.74,39.00 L202.05,38.88 L202.25,38.81 M203.82,38.26 L203.92,38.22 L204.23,38.11 L204.54,38.01 L204.86,37.90 L205.17,37.80 L205.30,37.76 M206.88,37.25 L207.06,37.19 L207.38,37.09 L207.69,37.00 L208.01,36.90 L208.33,36.80 L208.37,36.79 M209.96,36.33 L210.24,36.25 L210.56,36.16 L210.88,36.07 L211.20,35.98 L211.46,35.91 M213.06,35.48 L213.12,35.46 L213.44,35.38 L213.76,35.30 L214.08,35.21 L214.41,35.13 L214.57,35.09 M216.18,34.70 L216.34,34.66 L216.66,34.59 L216.98,34.51 L217.31,34.44 L217.63,34.36 L217.69,34.35 M219.31,33.99 L219.57,33.94 L219.89,33.87 L220.21,33.80 L220.54,33.73 L220.83,33.67 M222.45,33.34 L222.47,33.34 L222.80,33.27 L223.12,33.21 L223.44,33.15 L223.77,33.09 L223.98,33.05 M225.60,32.75 L225.71,32.73 L226.03,32.67 L226.35,32.62 L226.68,32.56 L227.00,32.51 L227.13,32.48 M228.76,32.21 L228.94,32.19 L229.26,32.13 L229.59,32.08 L229.91,32.03 L230.23,31.98 L230.30,31.97 M231.93,31.73 L232.17,31.70 L232.50,31.65 L232.82,31.60 L233.14,31.56 L233.47,31.52 L233.47,31.51 M235.11,31.30 L235.41,31.26 L235.73,31.22 L236.05,31.18 L236.38,31.14 L236.65,31.11 M238.29,30.91 L238.32,30.91 L238.64,30.87 L238.97,30.84 L239.29,30.80 L239.61,30.77 L239.83,30.74 M241.47,30.57 L241.55,30.56 L241.88,30.53 L242.20,30.50 L242.53,30.47 L242.85,30.44 L243.01,30.42 M244.66,30.27 L244.79,30.26 L245.12,30.23 L245.44,30.21 L245.76,30.18 L246.09,30.15 L246.20,30.14 M247.85,30.01 L248.03,30.00 L248.36,29.98 L248.68,29.95 L249.00,29.93 L249.33,29.91 L249.40,29.90 M251.04,29.79 L251.27,29.78 L251.60,29.76 L251.92,29.74 L252.25,29.72 L252.57,29.70 L252.59,29.69 M254.24,29.60 L254.52,29.58 L254.84,29.57 L255.16,29.55 L255.49,29.53 L255.79,29.52 M257.43,29.44 L257.43,29.44 L257.76,29.42 L258.08,29.41 L258.41,29.39 L258.73,29.38 L258.98,29.37 M260.63,29.30 L260.68,29.30 L261.01,29.29 L261.33,29.28 L261.66,29.26 L261.98,29.25 L262.18,29.25 M263.83,29.19 L263.93,29.19 L264.25,29.18 L264.58,29.17 L264.90,29.16 L265.23,29.15 L265.38,29.14 M267.03,29.10 L267.18,29.09 L267.50,29.09 L267.83,29.08 L268.15,29.07 L268.48,29.06 L268.58,29.06 M270.23,29.02 L270.43,29.02 L270.76,29.01 L271.08,29.00 L271.41,29.00 L271.73,28.99 L271.78,28.99 M273.43,28.96 L273.69,28.96 L274.01,28.95 L274.34,28.94 L274.66,28.94 L274.98,28.93 M276.63,28.91 L276.94,28.90 L277.27,28.90 L277.60,28.89 L277.92,28.89 L278.18,28.89 M279.83,28.86 L279.88,28.86 L280.20,28.86 L280.53,28.85 L280.86,28.85 L281.18,28.85 L281.38,28.84 M283.03,28.82 L283.14,28.82 L283.47,28.82 L283.79,28.81 L284.12,28.81 L284.45,28.81 L284.58,28.80 M286.23,28.78 L286.40,28.78 L286.73,28.78 L287.06,28.77 L287.38,28.77 L287.71,28.77 L287.78,28.77 M289.43,28.75 L289.67,28.75 L290.00,28.74 L290.33,28.74 L290.65,28.73 L290.98,28.73 M292.63,28.71 L292.94,28.71 L293.27,28.71 L293.60,28.70 L293.92,28.70 L294.18,28.70 M295.83,28.68 L295.89,28.68 L296.21,28.68 L296.54,28.67 L296.87,28.67 L297.19,28.67 L297.38,28.67 M299.03,28.65 L299.16,28.65 L299.49,28.65 L299.81,28.64 L300.14,28.64 L300.47,28.64 L300.58,28.64 M302.23,28.62 L302.43,28.62 L302.76,28.62 L303.09,28.62 L303.42,28.61 L303.74,28.61 L303.78,28.61 M305.43,28.60 L305.71,28.59 L306.04,28.59 L306.36,28.59 L306.69,28.59 L306.98,28.58 M308.63,28.57 L308.66,28.57 L308.99,28.57 L309.31,28.57 L309.64,28.56 L309.97,28.56 L310.18,28.56 M311.83,28.55 L311.94,28.55 L312.26,28.55 L312.59,28.54 L312.92,28.54 L313.25,28.54 L313.38,28.54 M315.03,28.53 L315.21,28.53 L315.54,28.53 L315.87,28.52 L316.20,28.52 L316.52,28.52 L316.58,28.52 M318.23,28.51 L318.49,28.51 L318.82,28.51 L319.15,28.51 L319.47,28.51 L319.78,28.50 M321.43,28.50 L321.44,28.50 L321.77,28.49 L322.10,28.49 L322.42,28.49 L322.75,28.49 L322.98,28.49 M324.63,28.48 L324.72,28.48 L325.05,28.48 L325.37,28.48 L325.70,28.48 L326.03,28.48 L326.18,28.48 M327.83,28.47 L328.00,28.47 L328.32,28.47 L328.65,28.47 L328.98,28.47 L329.31,28.46 L329.38,28.46 M331.03,28.46 L331.27,28.46 L331.60,28.46 L331.93,28.46 L332.26,28.46 L332.58,28.46 M334.23,28.45 L334.55,28.45 L334.88,28.45 L335.20,28.45 L335.53,28.45 L335.78,28.45 M337.43,28.45 L337.50,28.45 L337.82,28.45 L338.15,28.44 L338.48,28.44 L338.81,28.44 L338.98,28.44 M340.63,28.44 L340.77,28.44 L341.10,28.44 L341.42,28.44 L341.75,28.44 L342.08,28.44 L342.18,28.44 M343.83,28.44 L344.04,28.44 L344.37,28.44 L344.69,28.44 L345.02,28.44 L345.35,28.44 L345.38,28.44 M347.03,28.44 L347.31,28.44 L347.64,28.44 L347.96,28.44 L348.29,28.44 L348.58,28.44 M350.23,28.44 L350.25,28.44 L350.58,28.44 L350.90,28.44 L351.23,28.45 L351.56,28.45 L351.78,28.45 M353.43,28.45 L353.52,28.45 L353.84,28.45 L354.17,28.45 L354.50,28.45 L354.82,28.45 L354.98,28.45 M356.63,28.46 L356.78,28.46 L357.10,28.46 L357.43,28.46 L357.76,28.46 L358.08,28.46 L358.18,28.46 M359.83,28.47 L360.04,28.47 L360.36,28.47 L360.69,28.47 L361.02,28.47 L361.34,28.47 L361.38,28.47 M363.03,28.48 L363.29,28.48 L363.62,28.48 L363.95,28.48 L364.27,28.48 L364.58,28.48 M366.23,28.49 L366.55,28.49 L366.87,28.49 L367.20,28.50 L367.52,28.50 L367.78,28.50" stroke-width="1.32"/>
<path d="M60,16.2H105.1" stroke-width="1.15" stroke-dasharray="6.3 2"/>
<path d="M60,27.2H105.1" stroke-width="1.15"/>
<path d="M60,38.25H104.9" stroke-width="1.6" stroke-dasharray="1.75 1.41"/>
</g>
<g font-family="'Liberation Sans', sans-serif" fill="#000" stroke="#000" stroke-width="0.12" text-rendering="geometricPrecision">
<text font-size="9.75" text-anchor="start" transform="translate(110.20,19.50) scale(1,1.045)">MCCI 0.005</text>
<text font-size="9.75" text-anchor="start" transform="translate(110.20,30.70) scale(1,1.045)">MCCI 0.0005</text>
<text font-size="9.75" text-anchor="start" transform="translate(110.20,41.80) scale(1,1.045)">FCI</text>
<text font-size="9.8" text-anchor="end" transform="translate(49.70,34.30) scale(1,1.045)">-100</text>
<text font-size="9.8" text-anchor="end" transform="translate(49.70,80.04) scale(1,1.045)">-100.05</text>
<text font-size="9.8" text-anchor="end" transform="translate(49.70,125.78) scale(1,1.045)">-100.1</text>
<text font-size="9.8" text-anchor="end" transform="translate(49.70,171.52) scale(1,1.045)">-100.15</text>
<text font-size="9.8" text-anchor="end" transform="translate(49.70,217.26) scale(1,1.045)">-100.2</text>
<text font-size="9.8" text-anchor="middle" transform="translate(87.30,232.30) scale(1,1.045)">1</text>
<text font-size="9.8" text-anchor="middle" transform="translate(134.13,232.30) scale(1,1.045)">1.5</text>
<text font-size="9.8" text-anchor="middle" transform="translate(180.97,232.30) scale(1,1.045)">2</text>
<text font-size="9.8" text-anchor="middle" transform="translate(227.80,232.30) scale(1,1.045)">2.5</text>
<text font-size="9.8" text-anchor="middle" transform="translate(274.64,232.30) scale(1,1.045)">3</text>
<text font-size="9.8" text-anchor="middle" transform="translate(321.47,232.30) scale(1,1.045)">3.5</text>
<text font-size="9.8" text-anchor="middle" transform="translate(368.31,232.30) scale(1,1.045)">4</text>
<text font-size="13.15" text-anchor="middle" transform="translate(211.45,248.30) scale(1,1.06)">R (angstrom)</text>
<text font-size="13" text-anchor="middle" transform="translate(12.50,113.10) rotate(-90) scale(1,1.07)">E (Hartree)</text>
</g>
</svg>
</body></html>
